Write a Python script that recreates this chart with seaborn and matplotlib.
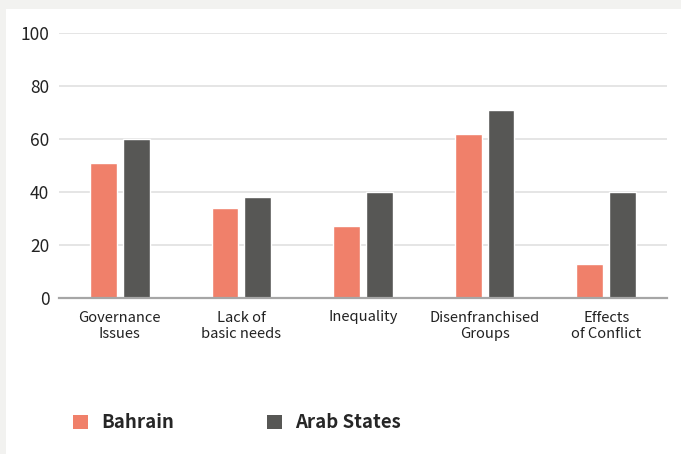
import pandas as pd
import matplotlib.pyplot as plt
import matplotlib.patches as mpatches
import seaborn as sns

# Chart data
categories = ["Governance\nIssues", "Lack of\nbasic needs", "Inequality",
              "Disenfranchised\nGroups", "Effects\nof Conflict"]
bahrain = [51, 34, 27, 62, 13]
arab_states = [60, 38, 40, 71, 40]
series_names = ["Bahrain", "Arab States"]
colors = ["#f0806a", "#575755"]

df = pd.DataFrame({
    "category": categories * 2,
    "value": bahrain + arab_states,
    "series": [series_names[0]] * len(categories) + [series_names[1]] * len(categories),
})

sns.set_style("white")
plt.rcParams['font.family'] = ['Noto Sans CJK SC', 'DejaVu Sans']

fig = plt.figure(figsize=(6.81, 4.54), dpi=100, facecolor="#f2f2f0")
# white card behind everything
fig.patches.append(mpatches.Rectangle((6 / 681, 0), 1, 1 - 9 / 454,
                                      transform=fig.transFigure, facecolor="white",
                                      edgecolor="none", zorder=-10))

ax = fig.add_axes([59 / 681, 1 - 298 / 454, 608 / 681, 265 / 454])
ax.set_facecolor("none")

sns.barplot(data=df, x="category", y="value", hue="series", palette=colors,
            width=0.54, gap=0.18, ax=ax, legend=False, saturation=1)

ax.set_ylim(0, 100)
ax.set_xlim(-0.5, 4.5)
ax.set_yticks(range(0, 101, 20))
ax.yaxis.grid(True, color="#e0e0e0", linewidth=1.2)
ax.set_axisbelow(True)
for s in ["top", "right", "left"]:
    ax.spines[s].set_visible(False)
ax.spines["bottom"].set_color("#a6a6a6")
ax.spines["bottom"].set_linewidth(1.6)
ax.tick_params(axis="y", length=0, pad=7, labelsize=12.5, labelcolor="#222222")
ax.tick_params(axis="x", length=0, pad=9, labelsize=10.6, labelcolor="#222222")
ax.set_xlabel("")
ax.set_ylabel("")

handles = [mpatches.Patch(facecolor=c, edgecolor="none", label=n)
           for c, n in zip(colors, series_names)]
fig.legend(handles=handles, loc="center left", bbox_to_anchor=(73 / 681, 1 - 423 / 454),
           ncol=2, frameon=False, borderpad=0, borderaxespad=0,
           handlelength=0.8, handleheight=0.75, handletextpad=0.7, columnspacing=5.0,
           prop={"weight": "bold", "size": 13.4, "family": ["Noto Sans CJK SC", "DejaVu Sans"]})

fig.savefig("out.png", dpi=100, facecolor=fig.get_facecolor())
